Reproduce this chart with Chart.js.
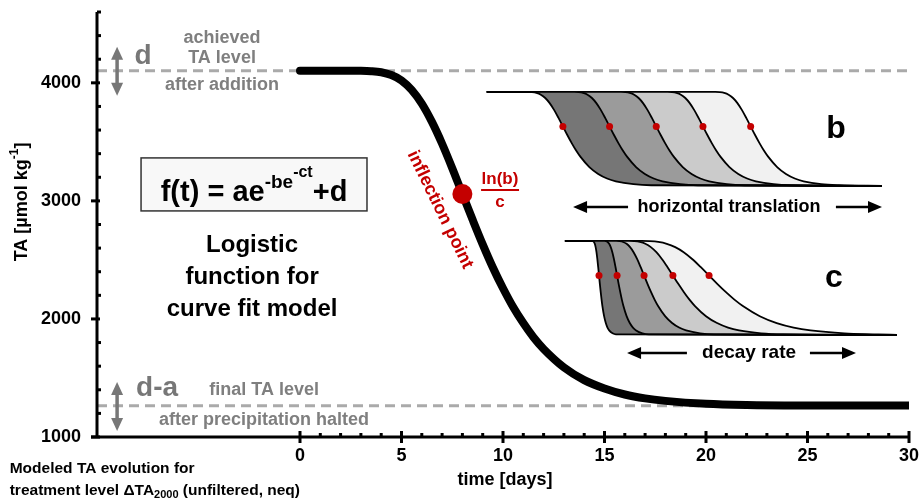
<!DOCTYPE html>
<html>
<head>
<meta charset="utf-8">
<script src="https://cdn.jsdelivr.net/npm/chart.js@4.4.1/dist/chart.umd.min.js"></script>
<style>
  html, body { margin: 0; padding: 0; background: #ffffff; }
  canvas { display: block; }
</style>
</head>
<body>
<canvas id="chart" width="920" height="504"></canvas>
<script>
// Modeled TA evolution (fitted logistic curve): time in days, TA in µmol/kg
const timeDays = [0, 1, 2, 3, 3.5, 4, 4.5, 5, 5.5, 6, 6.5, 7, 7.5, 8, 8.5, 9, 9.5, 10, 10.5, 11, 11.5, 12, 13, 14, 15, 16, 17, 18, 20, 22, 25, 30];
const taFit = [4103, 4103, 4103, 4102, 4099, 4090, 4066, 4020, 3940, 3824, 3669, 3484, 3277, 3058, 2842, 2632, 2436, 2260, 2101, 1965, 1845, 1746, 1590, 1482, 1411, 1360, 1327, 1306, 1281, 1271, 1267, 1266];

// Reference levels and the inflection point
const taAchieved = 4103;   // d
const taFinal = 1265;      // d - a
const inflectionDay = 8.0;
const inflectionTA = 3058;

// Step profile used by the two small sketches: scaled time and fractional drop
const stepU = [-2.5, -2, -1.75, -1.5, -1.25, -1, -0.75, -0.5, -0.25, 0, 0.25, 0.5, 0.75, 1, 1.5, 2, 2.5, 3, 4, 5];
const stepDrop = [0, 0.0006, 0.0032, 0.0113, 0.0305, 0.066, 0.120, 0.192, 0.277, 0.368, 0.459, 0.545, 0.624, 0.692, 0.800, 0.873, 0.921, 0.951, 0.982, 0.993];

// Sketch b: same shape, shifted in time
const bInflection = [12.95, 15.25, 17.55, 19.85, 22.2];
const bRate = [1.15, 1.15, 1.15, 1.15, 1.15];
const bTop = 3924, bBottom = 3127, bDotTA = 3630;
const bSpan = [9.2, 28.67];

// Sketch c: different decay rates
const cInflection = [14.73, 15.62, 16.95, 18.37, 20.15];
const cRate = [6, 3.2, 1.45, 0.92, 0.6];
const cTop = 2661, cBottom = 1864, cDotTA = 2368;
const cSpan = [13.05, 29.4];

// Axis ticks
const yTicksMajor = [1000, 2000, 3000, 4000];
const xTicksMajor = [0, 5, 10, 15, 20, 25, 30];

const shades = ['#767676', '#9b9b9b', '#cbcbcb', '#f1f1f1'];
const RED = '#c40000';
const GREY_TXT = '#7f7f7f';
const FONT = '"Liberation Sans", Arial, Helvetica, sans-serif';

function sketchCurve(inf, k, top, bottom, span) {
  const pts = [{ x: span[0], y: top }];
  stepU.forEach((u, j) => pts.push({ x: inf + u / k, y: top - stepDrop[j] * (top - bottom) }));
  pts.push({ x: span[1], y: bottom });
  return pts;
}

const datasets = [];
datasets.push({ // inflection point marker
  data: [{ x: inflectionDay, y: inflectionTA }], showLine: false,
  pointRadius: 10, pointBackgroundColor: RED, pointBorderWidth: 0, order: 0
});
datasets.push({ // fitted curve
  data: timeDays.map((t, i) => ({ x: t, y: taFit[i] })),
  borderColor: '#000', borderWidth: 8, pointRadius: 0, fill: false,
  cubicInterpolationMode: 'monotone', borderCapStyle: 'round', borderJoinStyle: 'round', order: 1
});
datasets.push({ // achieved level
  data: [{ x: -10, y: taAchieved }, { x: 30, y: taAchieved }],
  borderColor: '#aaaaaa', borderWidth: 3, borderDash: [10, 6], pointRadius: 0, fill: false, order: 6
});
datasets.push({ // final level
  data: [{ x: -10, y: taFinal }, { x: 30, y: taFinal }],
  borderColor: '#aaaaaa', borderWidth: 3, borderDash: [10, 6], pointRadius: 0, fill: false, order: 6
});

function addSketch(infs, rates, top, bottom, span, dotTA) {
  infs.forEach((inf, i) => {
    datasets.push({
      data: sketchCurve(inf, rates[i], top, bottom, span),
      borderColor: '#000', borderWidth: 1.8, pointRadius: 0,
      cubicInterpolationMode: 'monotone',
      fill: i === 0 ? false : '-1',
      backgroundColor: i === 0 ? 'transparent' : shades[i - 1],
      order: 4
    });
  });
  datasets.push({
    data: infs.map(t => ({ x: t, y: dotTA })), showLine: false,
    pointRadius: 3.5, pointBackgroundColor: RED, pointBorderWidth: 0, order: 2
  });
}
addSketch(bInflection, bRate, bTop, bBottom, bSpan, bDotTA);
addSketch(cInflection, cRate, cTop, cBottom, cSpan, cDotTA);

// Text, arrows, axis lines and tick marks
const annotations = {
  id: 'annotations',
  afterDatasetsDraw(chart) {
    const { ctx, chartArea: a, scales } = chart;
    const X = t => scales.x.getPixelForValue(t);
    const Y = v => scales.y.getPixelForValue(v);

    ctx.save();
    // axis lines
    ctx.strokeStyle = '#000';
    ctx.lineWidth = 3;
    ctx.lineCap = 'butt';
    ctx.beginPath();
    ctx.moveTo(a.left, a.top); ctx.lineTo(a.left, a.bottom + 1.5);
    ctx.moveTo(a.left - 6, a.bottom); ctx.lineTo(a.right, a.bottom);
    ctx.stroke();
    // y ticks
    for (let v = 1000; v <= 4600; v += 200) {
      const yp = Y(v);
      ctx.beginPath();
      if (yTicksMajor.includes(v)) { ctx.moveTo(a.left - 6, yp); ctx.lineTo(a.left + 3, yp); }
      else { ctx.moveTo(a.left, yp); ctx.lineTo(a.left + 4, yp); }
      ctx.stroke();
    }
    // x ticks
    for (let t = 0; t <= 30; t++) {
      const xp = X(t);
      ctx.beginPath();
      if (xTicksMajor.includes(t)) { ctx.moveTo(xp, a.bottom - 6); ctx.lineTo(xp, a.bottom + 6); }
      else { ctx.moveTo(xp, a.bottom - 4); ctx.lineTo(xp, a.bottom); }
      ctx.stroke();
    }

    const text = (s, t, v, size, color, align = 'center', weight = 'bold') => {
      ctx.font = `${weight} ${size}px ${FONT}`;
      ctx.fillStyle = color;
      ctx.textAlign = align;
      ctx.textBaseline = 'middle';
      ctx.fillText(s, X(t), Y(v));
    };

    // grey level annotations
    text('achieved', -3.84, 4381, 18, GREY_TXT);
    text('TA level', -3.84, 4212, 18, GREY_TXT);
    text('after addition', -3.84, 3983, 18, GREY_TXT);
    text('final TA level', -1.77, 1398, 18, GREY_TXT);
    text('after precipitation halted', -1.77, 1144, 18, GREY_TXT);
    text('d', -7.73, 4229, 28, '#777777');
    text('d-a', -7.04, 1415, 28, '#777777');

    const vArrow = (t, v1, v2) => {
      const xp = X(t), y1 = Y(v1), y2 = Y(v2);
      ctx.strokeStyle = '#777777'; ctx.fillStyle = '#777777'; ctx.lineWidth = 3.5;
      ctx.beginPath(); ctx.moveTo(xp, y1 + 10); ctx.lineTo(xp, y2 - 10); ctx.stroke();
      ctx.beginPath(); ctx.moveTo(xp, y1); ctx.lineTo(xp - 6, y1 + 13); ctx.lineTo(xp + 6, y1 + 13); ctx.closePath(); ctx.fill();
      ctx.beginPath(); ctx.moveTo(xp, y2); ctx.lineTo(xp - 6, y2 - 13); ctx.lineTo(xp + 6, y2 - 13); ctx.closePath(); ctx.fill();
    };
    vArrow(-9.01, 4305, 3890);
    vArrow(-9.01, 1466, 1051);

    // formula box
    const bx1 = X(-7.83), bx2 = X(3.3), by1 = Y(3364), by2 = Y(2915);
    ctx.fillStyle = '#f8f8f8';
    ctx.fillRect(bx1, by1, bx2 - bx1, by2 - by1);
    ctx.strokeStyle = '#333'; ctx.lineWidth = 1.5;
    ctx.strokeRect(bx1, by1, bx2 - bx1, by2 - by1);
    const parts = [
      { s: 'f(t) = ae', size: 29, dy: 0 },
      { s: '-be', size: 19, dy: -13 },
      { s: '-ct', size: 16, dy: -24 },
      { s: '+d', size: 29, dy: 0 }
    ];
    let total = 0;
    parts.forEach(p => { ctx.font = `bold ${p.size}px ${FONT}`; p.w = ctx.measureText(p.s).width; total += p.w; });
    let cx = (bx1 + bx2) / 2 - total / 2;
    const base = by2 - 10;
    ctx.fillStyle = '#000'; ctx.textAlign = 'left'; ctx.textBaseline = 'alphabetic';
    parts.forEach(p => { ctx.font = `bold ${p.size}px ${FONT}`; ctx.fillText(p.s, cx, base + p.dy); cx += p.w; });

    text('Logistic', -2.36, 2620, 24, '#000');
    text('function for', -2.36, 2350, 24, '#000');
    text('curve fit model', -2.36, 2085, 24, '#000');

    // inflection point labels
    text('ln(b)', 9.85, 3186, 17, RED);
    ctx.strokeStyle = RED; ctx.lineWidth = 2;
    ctx.beginPath(); ctx.moveTo(X(8.92), Y(3093)); ctx.lineTo(X(10.79), Y(3093)); ctx.stroke();
    text('c', 9.85, 2991, 17, RED);
    ctx.save();
    ctx.translate(X(6.9), Y(2925));
    ctx.rotate(64 * Math.PI / 180);
    ctx.font = `bold 18px ${FONT}`; ctx.fillStyle = RED; ctx.textAlign = 'center'; ctx.textBaseline = 'middle';
    ctx.fillText('inflection point', 0, 0);
    ctx.restore();

    // sketch labels
    text('b', 26.4, 3610, 32, '#000');
    text('c', 26.3, 2347, 32, '#000');
    const hArrow = (t1, t2, t3, t4, v) => {
      const yp = Y(v);
      ctx.strokeStyle = '#000'; ctx.fillStyle = '#000'; ctx.lineWidth = 2.5;
      ctx.beginPath();
      ctx.moveTo(X(t1) + 8, yp); ctx.lineTo(X(t2), yp);
      ctx.moveTo(X(t3), yp); ctx.lineTo(X(t4) - 8, yp);
      ctx.stroke();
      ctx.beginPath(); ctx.moveTo(X(t1), yp); ctx.lineTo(X(t1) + 14, yp - 6); ctx.lineTo(X(t1) + 14, yp + 6); ctx.closePath(); ctx.fill();
      ctx.beginPath(); ctx.moveTo(X(t4), yp); ctx.lineTo(X(t4) - 14, yp - 6); ctx.lineTo(X(t4) - 14, yp + 6); ctx.closePath(); ctx.fill();
    };
    hArrow(13.45, 16.16, 26.4, 28.67, 2949);
    text('horizontal translation', 21.13, 2949, 18, '#000');
    hArrow(16.11, 19.06, 25.12, 27.39, 1712);
    text('decay rate', 22.12, 1712, 19, '#000');

    // axis titles
    text('time [days]', 10.1, 635, 18, '#000');
    ctx.save();
    ctx.translate(X(-13.7), Y(2991));
    ctx.rotate(-Math.PI / 2);
    ctx.fillStyle = '#000'; ctx.textBaseline = 'middle'; ctx.textAlign = 'left';
    const ySeg = [{ s: 'TA [µmol kg', size: 18, dy: 0 }, { s: '-1', size: 12, dy: -7 }, { s: ']', size: 18, dy: 0 }];
    let yw = 0;
    ySeg.forEach(p => { ctx.font = `bold ${p.size}px ${FONT}`; p.w = ctx.measureText(p.s).width; yw += p.w; });
    let yx = -yw / 2;
    ySeg.forEach(p => { ctx.font = `bold ${p.size}px ${FONT}`; ctx.fillText(p.s, yx, p.dy); yx += p.w; });
    ctx.restore();

    // caption
    ctx.fillStyle = '#000'; ctx.textAlign = 'left'; ctx.textBaseline = 'middle';
    ctx.font = `bold 15.5px ${FONT}`;
    const capX = X(-14.3);
    ctx.fillText('Modeled TA evolution for', capX, Y(729));
    let cxp = capX;
    const cap2 = [{ s: 'treatment level ΔTA', size: 15.5, dy: 0 }, { s: '2000', size: 11, dy: 4 }, { s: ' (unfiltered, neq)', size: 15.5, dy: 0 }];
    cap2.forEach(p => { ctx.font = `bold ${p.size}px ${FONT}`; ctx.fillText(p.s, cxp, Y(542) + p.dy); cxp += ctx.measureText(p.s).width; });

    ctx.restore();
  }
};

// Fixed plot area: no extra room reserved for tick label overhang
const noOverhang = s => { s.paddingTop = 0; s.paddingBottom = 0; s.paddingLeft = 0; s.paddingRight = 0; };

new Chart(document.getElementById('chart'), {
  type: 'line',
  data: { datasets },
  options: {
    responsive: false,
    animation: false,
    events: [],
    layout: { padding: { top: 12, right: 11, left: 0, bottom: 0 } },
    plugins: { legend: { display: false }, tooltip: { enabled: false } },
    scales: {
      x: {
        type: 'linear', min: -10, max: 30,
        grid: { display: false, drawTicks: false },
        border: { display: false },
        ticks: {
          stepSize: 1, autoSkip: false, maxRotation: 0, padding: 8,
          color: '#000', font: { family: FONT, size: 18, weight: 'bold' },
          callback: v => (v >= 0 && v % 5 === 0) ? String(v) : ''
        },
        afterFit: s => { s.height = 67; noOverhang(s); }
      },
      y: {
        type: 'linear', min: 1000, max: 4600,
        grid: { display: false, drawTicks: false },
        border: { display: false },
        ticks: {
          stepSize: 200, autoSkip: false, padding: 16,
          color: '#000', font: { family: FONT, size: 18, weight: 'bold' },
          callback: v => (v % 1000 === 0) ? String(v) : ''
        },
        afterFit: s => { s.width = 97; noOverhang(s); }
      }
    }
  },
  plugins: [annotations]
});
</script>
</body>
</html>
